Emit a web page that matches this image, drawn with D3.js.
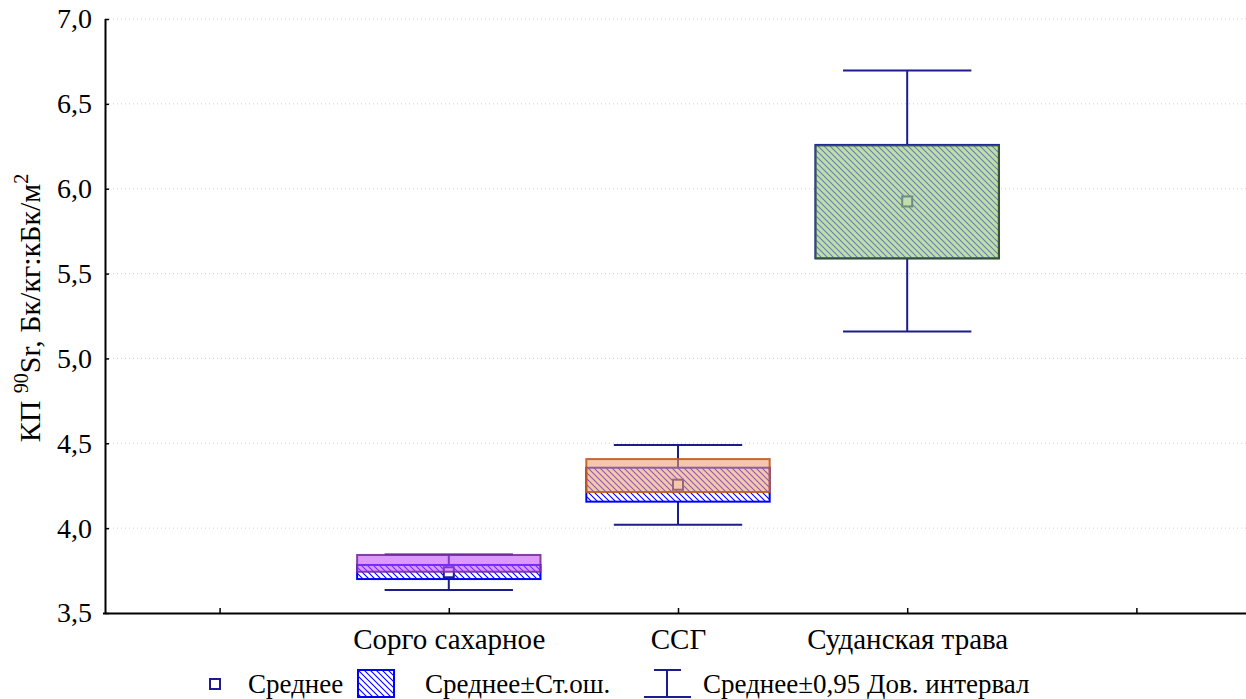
<!DOCTYPE html>
<html>
<head>
<meta charset="utf-8">
<script src="https://cdn.jsdelivr.net/npm/d3@7"></script>
<style>
  body { margin: 0; background: #fff; }
  svg text { font-family: "Liberation Serif", "Times New Roman", Tinos, "DejaVu Serif", serif; }
  .grid line { stroke: #d0d0d0; stroke-dasharray: 1,3; }
</style>
</head>
<body>
<svg width="1246" height="699"></svg>
<script>
"use strict";

// x slots: empty slot, three crops, empty slot (as on the original axis)
var slots = ["_a", "Сорго сахарное", "ССГ", "Суданская трава", "_b"];
var categories = ["Сорго сахарное", "ССГ", "Суданская трава"];

var means    = [3.740, 4.256, 5.925];
var seLow    = [3.700, 4.156, 5.590];
var seHigh   = [3.783, 4.356, 6.258];
var ciLow    = [3.635, 4.020, 5.158];
var ciHigh   = [3.845, 4.490, 6.696];
// coloured boxes laid over the hatched ones
var overLow  = [3.743, 4.213, 5.590];
var overHigh = [3.842, 4.407, 6.255];

var yTicks = [3.5, 4.0, 4.5, 5.0, 5.5, 6.0, 6.5, 7.0];

var overFill   = ["#c650f7", "#f0a06e", "#9ccb78"];
var overStroke = ["#7a2e9e", "#c25a1c", "#35552a"];
var overAlpha  = [0.58, 0.58, 0.64];

var svg = d3.select("svg");
var fmt = function(v) { return d3.format(".1f")(v).replace(".", ","); };

var x = d3.scalePoint().domain(slots).range([105, 1251]).padding(0.5);
var y = d3.scaleLinear().domain([3.5, 7.0]).range([613, 19]);
var step = x.step();
var boxW = step * 0.8;
var capW = step * 0.56;

// hatch pattern
var defs = svg.append("defs");
var pat = defs.append("pattern")
    .attr("id", "hatch")
    .attr("patternUnits", "userSpaceOnUse")
    .attr("width", 6).attr("height", 6);
pat.append("rect").attr("width", 6).attr("height", 6).attr("fill", "#fff");
pat.append("path")
    .attr("d", "M0,0 L6,6 M-1,5 L1,7 M5,-1 L7,1")
    .attr("stroke", "#0000ff").attr("stroke-width", 1.1);

// gridlines
svg.append("g").attr("class", "grid")
    .selectAll("line").data(yTicks.slice(1))
    .enter().append("line")
    .attr("x1", 105).attr("x2", 1246)
    .attr("y1", function(d) { return y(d); })
    .attr("y2", function(d) { return y(d); });

var g = svg.append("g");
var idx = d3.range(categories.length);

// whiskers
g.selectAll(".stem").data(idx).enter().append("line")
    .attr("x1", function(i) { return x(categories[i]); })
    .attr("x2", function(i) { return x(categories[i]); })
    .attr("y1", function(i) { return y(ciLow[i]); })
    .attr("y2", function(i) { return y(ciHigh[i]); })
    .attr("stroke", "#1c1c8c").attr("stroke-width", 2);
[ciLow, ciHigh].forEach(function(arr) {
    g.selectAll(null).data(idx).enter().append("line")
        .attr("x1", function(i) { return x(categories[i]) - capW / 2; })
        .attr("x2", function(i) { return x(categories[i]) + capW / 2; })
        .attr("y1", function(i) { return y(arr[i]); })
        .attr("y2", function(i) { return y(arr[i]); })
        .attr("stroke", "#1c1c8c").attr("stroke-width", 2);
});

// mean ± SE boxes
g.selectAll(".se").data(idx).enter().append("rect")
    .attr("x", function(i) { return x(categories[i]) - boxW / 2; })
    .attr("width", boxW)
    .attr("y", function(i) { return y(seHigh[i]); })
    .attr("height", function(i) { return y(seLow[i]) - y(seHigh[i]); })
    .attr("fill", "url(#hatch)")
    .attr("stroke", "#0000ff").attr("stroke-width", 2);

// means
g.selectAll(".mean").data(idx).enter().append("rect")
    .attr("x", function(i) { return x(categories[i]) - 5; })
    .attr("y", function(i) { return y(means[i]) - 5; })
    .attr("width", 10).attr("height", 10)
    .attr("fill", "#fff")
    .attr("stroke", "#1c1c8c").attr("stroke-width", 2);

// coloured overlays
g.selectAll(".over").data(idx).enter().append("rect")
    .attr("x", function(i) { return x(categories[i]) - boxW / 2; })
    .attr("width", boxW)
    .attr("y", function(i) { return y(overHigh[i]); })
    .attr("height", function(i) { return y(overLow[i]) - y(overHigh[i]); })
    .attr("fill", function(i) { return overFill[i]; })
    .attr("fill-opacity", function(i) { return overAlpha[i]; })
    .attr("stroke", function(i) { return overStroke[i]; })
    .attr("stroke-opacity", 0.9)
    .attr("stroke-width", 2);

// axes
var yAxis = svg.append("g")
    .attr("transform", "translate(105,0)")
    .call(d3.axisLeft(y).tickValues(yTicks).tickFormat(fmt).tickSizeInner(-4).tickSizeOuter(0).tickPadding(13));
var xAxis = svg.append("g")
    .attr("transform", "translate(0,613)")
    .call(d3.axisBottom(x).tickSizeInner(-5).tickSizeOuter(0).tickPadding(15)
        .tickFormat(function(d) { return d.charAt(0) === "_" ? "" : d; }));
[yAxis, xAxis].forEach(function(ax) {
    ax.attr("font-family", null);
    ax.select(".domain").attr("stroke", "#000").attr("stroke-width", 2);
    ax.selectAll(".tick line").attr("stroke", "#000").attr("stroke-width", 1.5);
    ax.selectAll("text").attr("fill", "#000");
});
yAxis.selectAll("text").style("font-size", "28px");
xAxis.selectAll("text").style("font-size", "29px");
xAxis.select(".domain").attr("d", "M103,0.5H1246");
yAxis.select(".domain").attr("d", "M0.5,19V614");

// y title
var yt = svg.append("text")
    .attr("transform", "translate(40,308) rotate(-90)")
    .attr("text-anchor", "middle")
    .style("font-size", "30px");
yt.append("tspan").text("КП ");
yt.append("tspan").attr("dy", -12).style("font-size", "20px").text("90");
yt.append("tspan").attr("dy", 12).text("Sr, Бк/кг:кБк/м");
yt.append("tspan").attr("dy", -12).style("font-size", "20px").text("2");

// legend
var lg = svg.append("g").style("font-size", "27px");
var ly = 684;
lg.append("rect").attr("x", 210).attr("y", ly - 5).attr("width", 10).attr("height", 10)
    .attr("fill", "#fff").attr("stroke", "#1c1c8c").attr("stroke-width", 2);
lg.append("text").attr("x", 248).attr("y", ly + 9).text("Среднее");
lg.append("rect").attr("x", 358).attr("y", ly - 14).attr("width", 36).attr("height", 27)
    .attr("fill", "url(#hatch)").attr("stroke", "#0000ff").attr("stroke-width", 2);
lg.append("text").attr("x", 425).attr("y", ly + 9).text("Среднее±Ст.ош.");
lg.append("line").attr("x1", 654).attr("x2", 681).attr("y1", ly - 14).attr("y2", ly - 14)
    .attr("stroke", "#1c1c8c").attr("stroke-width", 2);
lg.append("line").attr("x1", 667).attr("x2", 667).attr("y1", ly - 14).attr("y2", ly + 13)
    .attr("stroke", "#1c1c8c").attr("stroke-width", 2);
lg.append("line").attr("x1", 644).attr("x2", 691).attr("y1", ly + 13).attr("y2", ly + 13)
    .attr("stroke", "#1c1c8c").attr("stroke-width", 2);
lg.append("text").attr("x", 703).attr("y", ly + 9).text("Среднее±0,95 Дов. интервал");
</script>
</body>
</html>
